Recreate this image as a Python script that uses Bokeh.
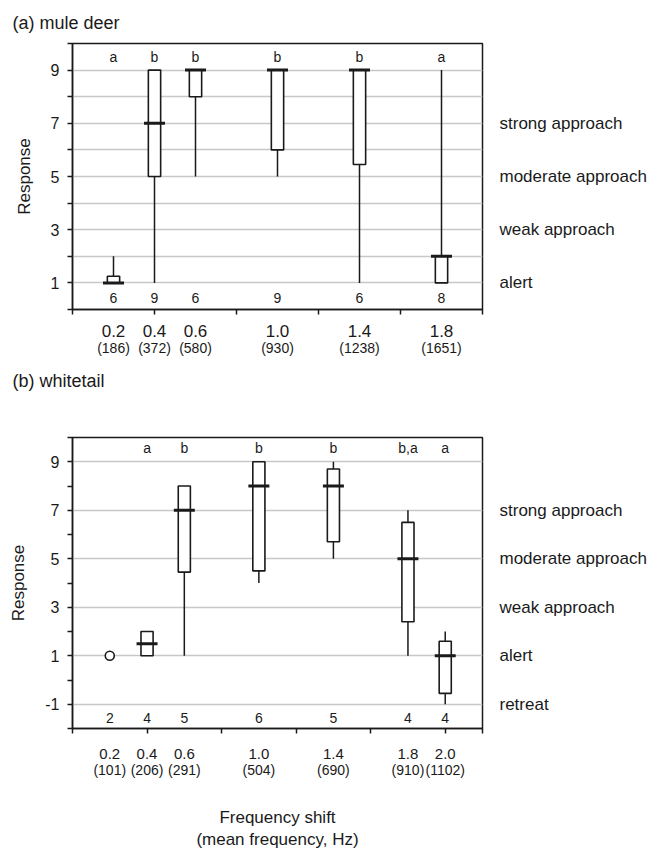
from bokeh.plotting import figure
from bokeh.models import FixedTicker, LinearAxis, Label, Range1d, CustomJSTickFormatter, Title
from bokeh.layouts import column
from bokeh.embed import file_html
from bokeh.resources import INLINE

FONT = "Liberation Sans"
INK = "#1a1a1a"
GRID = "#c8c8c8"

# ---------------- Panel (a) mule deer ----------------
a_x = [0.2, 0.4, 0.6, 1.0, 1.4, 1.8]
a_q1 = [1, 5, 8, 6, 5.45, 1]
a_q3 = [1.25, 9, 9, 9, 9, 2]
a_med = [1, 7, 9, 9, 9, 2]
a_lo = [1, 1, 5, 5, 1, 1]
a_hi = [2, 9, 9, 9, 9, 9]
a_n = ["6", "9", "6", "9", "6", "8"]
a_letters = ["a", "b", "b", "b", "b", "a"]
a_shift = ["0.2", "0.4", "0.6", "1.0", "1.4", "1.8"]
a_freq = ["(186)", "(372)", "(580)", "(930)", "(1238)", "(1651)"]
a_resp_ticks = [1, 3, 5, 7]
a_resp_labels = ["alert", "weak approach", "moderate approach", "strong approach"]

# ---------------- Panel (b) whitetail ----------------
b_box_x = [0.4, 0.6, 1.0, 1.4, 1.8, 2.0]
b_q1 = [1, 4.45, 4.5, 5.7, 2.4, -0.55]
b_q3 = [2, 8, 9, 8.7, 6.5, 1.6]
b_med = [1.5, 7, 8, 8, 5, 1]
b_lo = [1, 1, 4, 5, 1, -1]
b_hi = [2, 8, 9, 9, 7, 2]
b_pt_x = [0.2]
b_pt_y = [1]
b_x = [0.2, 0.4, 0.6, 1.0, 1.4, 1.8, 2.0]
b_n = ["2", "4", "5", "6", "5", "4", "4"]
b_letters = ["", "a", "b", "b", "b", "b,a", "a"]
b_shift = ["0.2", "0.4", "0.6", "1.0", "1.4", "1.8", "2.0"]
b_freq = ["(101)", "(206)", "(291)", "(504)", "(690)", "(910)", "(1102)"]
b_resp_ticks = [-1, 1, 3, 5, 7]
b_resp_labels = ["retreat", "alert", "weak approach", "moderate approach", "strong approach"]

odd_fmt = CustomJSTickFormatter(code="return (Math.abs(tick) % 2 === 1) ? tick.toString() : '';")
blank_fmt = CustomJSTickFormatter(code="return '';")


def lab(p, x, y, text, size):
    p.add_layout(Label(x=x, y=y, text=text, text_font=FONT, text_font_size=size,
                       text_color=INK, text_align="center", text_baseline="middle"))


def style_title(t, standoff):
    t.align = "left"
    t.offset = -60
    t.standoff = standoff
    t.vertical_align = "middle"
    t.text_font = FONT
    t.text_font_size = "18px"
    t.text_font_style = "normal"
    t.text_color = INK


def make_panel(height, y0, y1, x1, xticks, grid_ticks, btop, bbottom):
    p = figure(width=667, height=height, x_range=Range1d(0, x1),
               y_range=Range1d(y0, y1), output_backend="svg", toolbar_location=None,
               min_border_left=72, min_border_right=185,
               min_border_top=btop, min_border_bottom=bbottom)
    p.outline_line_color = INK
    p.outline_line_width = 1.5
    p.xgrid.visible = False
    p.ygrid.ticker = FixedTicker(ticks=grid_ticks)
    p.ygrid.grid_line_color = GRID
    p.ygrid.grid_line_width = 1.5
    ya = p.yaxis[0]
    ya.ticker = FixedTicker(ticks=list(range(int(y0), int(y1) + 1)))
    ya.formatter = odd_fmt
    ya.axis_line_color = INK
    ya.axis_line_width = 1.5
    ya.major_tick_line_color = INK
    ya.major_tick_line_width = 1.5
    ya.major_tick_in = 0
    ya.major_tick_out = 5
    ya.minor_tick_line_color = None
    ya.major_label_standoff = 8
    ya.major_label_text_font = FONT
    ya.major_label_text_font_size = "16px"
    ya.major_label_text_color = INK
    ya.axis_label = "Response"
    ya.axis_label_text_font = FONT
    ya.axis_label_text_font_size = "17px"
    ya.axis_label_text_font_style = "normal"
    ya.axis_label_text_color = INK
    ya.axis_label_standoff = 14
    xa = p.xaxis[0]
    xa.ticker = FixedTicker(ticks=xticks)
    xa.formatter = blank_fmt
    xa.axis_line_color = INK
    xa.axis_line_width = 1.5
    xa.major_tick_line_color = INK
    xa.major_tick_line_width = 1.5
    xa.major_tick_in = 0
    xa.major_tick_out = 5
    xa.minor_tick_line_color = None
    xa.major_label_standoff = 0
    xa.major_label_text_font_size = "1px"
    return p


def add_right(p, ticks, labels):
    ra = LinearAxis(ticker=FixedTicker(ticks=ticks),
                    major_label_overrides={t: s for t, s in zip(ticks, labels)},
                    axis_line_color=None, major_tick_line_color=None, minor_tick_line_color=None,
                    major_tick_in=0, major_tick_out=0,
                    major_label_standoff=17, major_label_text_font=FONT,
                    major_label_text_font_size="17px", major_label_text_color=INK)
    p.add_layout(ra, "right")


def add_below(p, ticks, labels, size, standoff, axis_label=None, label_standoff=0):
    ax = LinearAxis(ticker=FixedTicker(ticks=ticks),
                    major_label_overrides={t: s for t, s in zip(ticks, labels)},
                    axis_line_color=None, major_tick_line_color=None, minor_tick_line_color=None,
                    major_tick_in=0, major_tick_out=0,
                    major_label_standoff=standoff, major_label_text_font=FONT,
                    major_label_text_font_size=size, major_label_text_color=INK)
    if axis_label:
        ax.axis_label = axis_label
        ax.axis_label_text_font = FONT
        ax.axis_label_text_font_size = "17px"
        ax.axis_label_text_font_style = "normal"
        ax.axis_label_text_color = INK
        ax.axis_label_standoff = label_standoff
    p.add_layout(ax, "below")


def add_boxes(p, xs, q1, q3, med, lo, hi, width):
    p.segment(x0=xs, y0=lo, x1=xs, y1=hi, line_color=INK, line_width=1.5)
    p.vbar(x=xs, bottom=q1, top=q3, width=width, fill_color="white",
           line_color=INK, line_width=1.6)
    p.scatter(x=xs, y=med, marker="dash", size=21, line_color=INK, line_width=3)


# ---- panel a ----
H1 = 405
pa = make_panel(H1, 0, 10, 2.0, [0, 0.4, 0.8, 1.2, 1.6, 2.0],
                list(range(1, 10)), 43, H1 - 309)
pa.title.text = "(a) mule deer"
style_title(pa.title, 20)
add_boxes(pa, a_x, a_q1, a_q3, a_med, a_lo, a_hi, 0.06)
add_right(pa, a_resp_ticks, a_resp_labels)
add_below(pa, a_x, a_shift, "17px", 10)
add_below(pa, a_x, a_freq, "14px", 0)
tb = Title(text="(b) whitetail")
style_title(tb, 22)
pa.add_layout(tb, "below")
for x, l, n in zip(a_x, a_letters, a_n):
    lab(pa, x, 9.5, l, "14px")
    lab(pa, x, 0.42, n, "14px")

# ---- panel b ----
H2 = 447
pb = make_panel(H2, -2, 10, 2.2, [0, 0.4, 0.8, 1.2, 1.6, 2.0, 2.2],
                [-1, 1, 3, 5, 7, 9], 437 - H1, H1 + H2 - 729)
add_boxes(pb, b_box_x, b_q1, b_q3, b_med, b_lo, b_hi, 0.065)
pb.scatter(x=b_pt_x, y=b_pt_y, marker="circle", size=9, fill_color="white",
           line_color=INK, line_width=1.6)
add_right(pb, b_resp_ticks, b_resp_labels)
add_below(pb, b_x, b_shift, "15px", 15)
add_below(pb, b_x, b_freq, "14px", 0, "Frequency shift\n(mean frequency, Hz)", 27)
for x, l, n in zip(b_x, b_letters, b_n):
    if l:
        lab(pb, x, 9.55, l, "14px")
    lab(pb, x, -1.57, n, "14px")

layout = column(pa, pb)
open("out.html", "w").write(file_html(layout, INLINE))
